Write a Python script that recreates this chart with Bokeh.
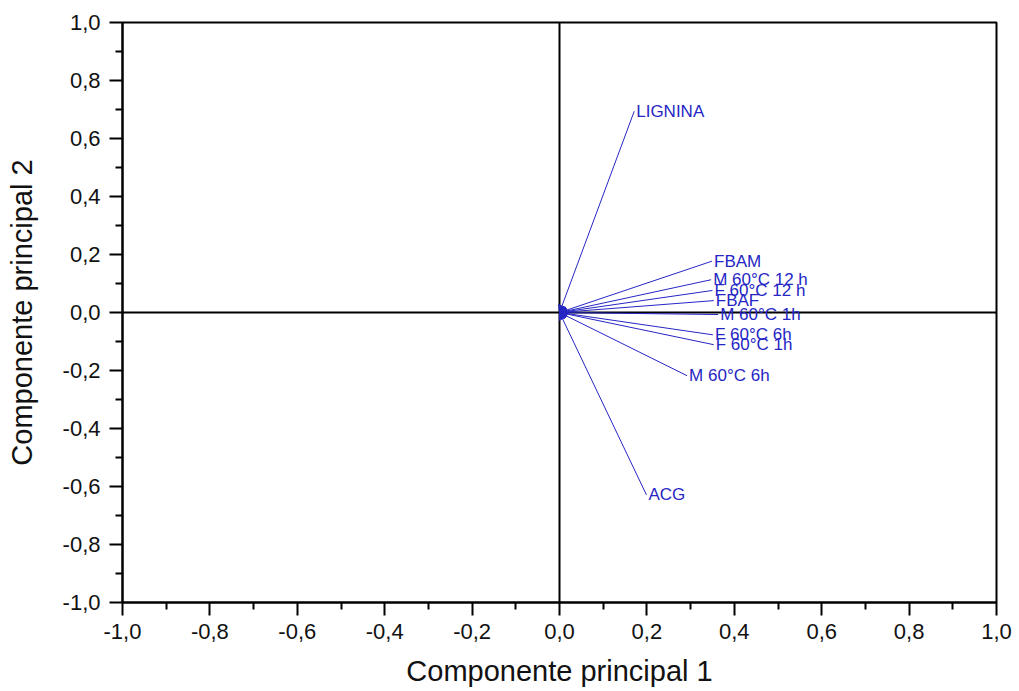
from bokeh.plotting import figure
from bokeh.models import (Range1d, FixedTicker, CustomJSTickFormatter, Span,
                          ColumnDataSource, Arrow, NormalHead, LabelSet)
from bokeh.core.properties import value
from bokeh.embed import file_html
from bokeh.resources import INLINE

# Loadings (PC1, PC2)
names = ["LIGNINA", "FBAM", "M 60°C 12 h", "F 60°C 12 h", "FBAF",
         "M 60°C 1h", "F 60°C 6h", "F 60°C 1h", "M 60°C 6h", "ACG"]
pc1 = [0.171, 0.349, 0.347, 0.350, 0.353, 0.363, 0.351, 0.353, 0.292, 0.199]
pc2 = [0.694, 0.177, 0.113, 0.076, 0.041, -0.007, -0.077, -0.111, -0.218, -0.629]

major_ticks = [-1.0, -0.8, -0.6, -0.4, -0.2, 0.0, 0.2, 0.4, 0.6, 0.8, 1.0]
minor_ticks = [-0.9, -0.7, -0.5, -0.3, -0.1, 0.1, 0.3, 0.5, 0.7, 0.9]

x_title = "Componente principal 1"
y_title = "Componente principal 2"

BLUE = "#2626c4"
FONT = "Liberation Sans"

p = figure(width=1015, height=689, output_backend="svg", toolbar_location=None,
           x_range=Range1d(-1, 1), y_range=Range1d(-1, 1),
           min_border_left=122, min_border_right=19, min_border_top=22,
           min_border_bottom=87)
p.background_fill_color = "white"
p.border_fill_color = "white"
p.outline_line_color = "black"
p.outline_line_width = 2
p.grid.visible = False

fmt = CustomJSTickFormatter(code="return tick.toFixed(1).replace('.', ',');")
for ax in (p.xaxis[0], p.yaxis[0]):
    ax.ticker = FixedTicker(ticks=major_ticks, minor_ticks=minor_ticks)
    ax.formatter = fmt
    ax.axis_line_width = 2
    ax.major_tick_line_width = 2
    ax.minor_tick_line_width = 2
    ax.major_tick_out = 13
    ax.major_tick_in = 0
    ax.minor_tick_out = 7
    ax.minor_tick_in = 0
    ax.major_label_text_font = FONT
    ax.major_label_text_font_size = "22px"
    ax.major_label_text_color = "#111111"
    ax.axis_label_text_font = FONT
    ax.axis_label_text_font_size = "29px"
    ax.axis_label_text_font_style = "normal"
    ax.axis_label_text_color = "#111111"

p.xaxis[0].axis_label = x_title
p.yaxis[0].axis_label = y_title
p.xaxis[0].major_label_standoff = 8
p.yaxis[0].major_label_standoff = 9
p.xaxis[0].axis_label_standoff = 13
p.yaxis[0].axis_label_standoff = 22

p.add_layout(Span(location=0, dimension="width", line_color="black", line_width=2))
p.add_layout(Span(location=0, dimension="height", line_color="black", line_width=2))

src = ColumnDataSource(dict(x0=[0.0] * len(names), y0=[0.0] * len(names),
                            x1=pc1, y1=pc2, name=names))
p.add_layout(Arrow(start=NormalHead(size=7, fill_color=BLUE, line_color=BLUE),
                   end=None, x_start="x0", y_start="y0", x_end="x1", y_end="y1",
                   source=src, line_color=BLUE, line_width=1))
p.add_layout(LabelSet(x="x1", y="y1", text="name", source=src, x_offset=2,
                      text_font=value(FONT), text_font_size="17px", text_color=BLUE,
                      text_baseline="middle", text_align="left"))

open("out.html", "w").write(file_html(p, INLINE))
